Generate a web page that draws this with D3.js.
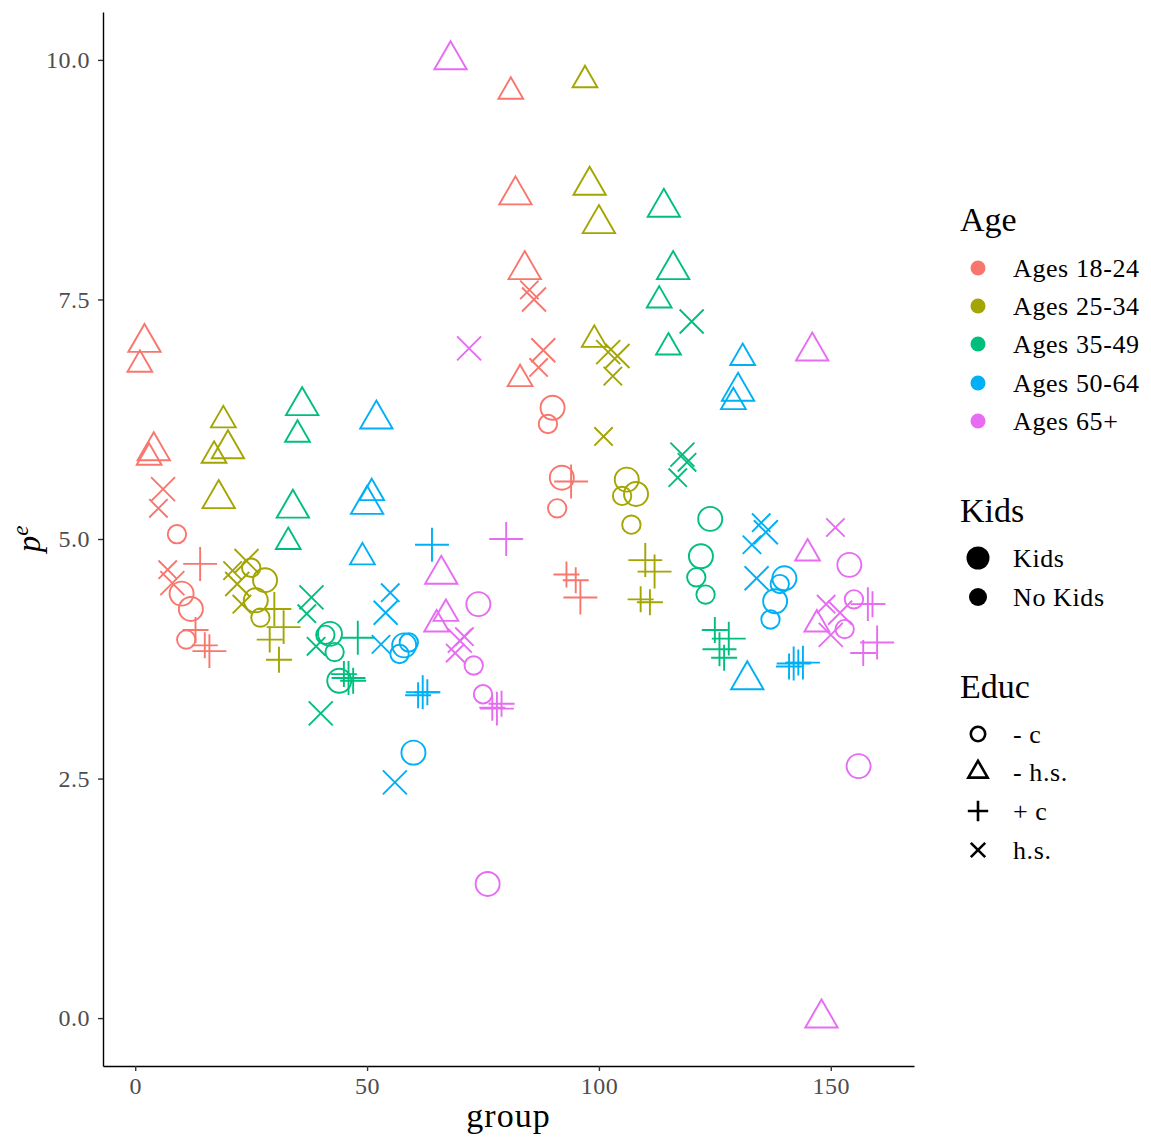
<!DOCTYPE html>
<html><head><meta charset="utf-8">
<script src="https://cdn.jsdelivr.net/npm/d3@7"></script>
<style>body{margin:0;background:#fff} text{font-family:"Liberation Serif",serif}</style>
</head><body>
<svg id="c" width="1151" height="1140"></svg>
<script>
const ageLevels = ["Ages 18-24","Ages 25-34","Ages 35-49","Ages 50-64","Ages 65+"];
const ageColors = ["#F8766D","#A3A500","#00BF7D","#00B0F6","#E76BF3"];
const kidsLevels = ["Kids","No Kids"];
const educLevels = ["- c","- h.s.","+ c","h.s."];
const xTicks = [0,50,100,150];
const yTicks = [0,2.5,5,7.5,10];

const group = [
 1,2,3,4,5,6,7,8,9,10,11,12,13,14,15,16,
 17,18,19,20,21,22,23,24,25,26,27,28,29,30,31,32,
 33,34,35,36,37,38,39,40,41,42,43,44,45,46,47,48,
 49,50,51,52,53,54,55,56,57,58,59,60,61,62,63,64,
 65,66,67,68,69,70,71,72,73,74,75,76,77,78,79,80,
 81,82,83,84,85,86,87,88,89,90,91,92,93,94,95,96,
 97,98,99,100,101,102,103,104,105,106,107,108,109,110,111,112,
 113,114,115,116,117,118,119,120,121,122,123,124,125,126,127,128,
 129,130,131,132,133,134,135,136,137,138,139,140,141,142,143,144,
 145,146,147,148,149,150,151,152,153,154,155,156,157,158,159,160];

const pe = [
 6.82,7.05,5.85,5.92, 5.32,5.52,4.68,4.54, 5.05,4.43,3.95,4.27, 4.05,4.74,3.89,3.83,
 5.87,5.42,6.24,5.94, 4.67,4.53,4.32,4.77, 4.70,4.36,4.18,4.57, 3.95,4.27,3.74,4.08,
 4.97,5.32,6.09,6.39, 4.22,4.39,3.88,3.18, 4.00,4.01,3.82,3.52, 3.59,3.55,3.52,3.97,
 4.81,5.36,5.48,6.25, 3.90,4.23,4.44,2.46, 3.80,3.89,3.92,2.77, 3.37,3.40,3.40,4.94,
 4.11,4.63,4.22,10.0, 3.81,3.94,3.98,6.99, 3.68,4.32,3.38,1.40, 3.24,3.23,3.28,5.00,
 9.67,8.59,6.67,7.81, 7.60,7.50,6.79,6.97, 6.20,6.37,5.32,5.64, 4.63,5.60,4.57,4.39,
 9.79,8.69,7.08,8.29, 6.07,6.95,6.70,6.91, 5.45,5.62,5.15,5.47, 4.37,4.78,4.34,4.66,
 7.49,8.46,7.00,7.81, 5.64,5.88,5.80,7.27, 4.60,4.82,4.42,5.21, 4.05,3.85,3.76,3.96,
 6.43,6.54,6.89,3.53, 4.94,4.59,5.17,5.07, 4.16,4.35,4.53,4.59, 3.67,3.70,3.71,3.71,
 4.85,6.96,4.11,0.00, 4.32,4.00,5.12,4.23, 4.06,4.73,4.37,2.63, 3.81,4.32,4.32,3.92];

// index into ageLevels
const age = [
 0,0,0,0,0,0,0,0,0,0,0,0,0,0,0,0,
 1,1,1,1,1,1,1,1,1,1,1,1,1,1,1,1,
 2,2,2,2,2,2,2,2,2,2,2,2,2,2,2,2,
 3,3,3,3,3,3,3,3,3,3,3,3,3,3,3,3,
 4,4,4,4,4,4,4,4,4,4,4,4,4,4,4,4,
 0,0,0,0,0,0,0,0,0,0,0,0,0,0,0,0,
 1,1,1,1,1,1,1,1,1,1,1,1,1,1,1,1,
 2,2,2,2,2,2,2,2,2,2,2,2,2,2,2,2,
 3,3,3,3,3,3,3,3,3,3,3,3,3,3,3,3,
 4,4,4,4,4,4,4,4,4,4,4,4,4,4,4,4];

// index into kidsLevels
const kids = [
 1,0,1,0,1,0,1,0,1,0,1,0,1,0,1,0, 1,0,1,0,1,0,1,0,1,0,1,0,1,0,1,0,
 1,0,1,0,1,0,1,0,1,0,1,0,1,0,1,0, 1,0,1,0,1,0,1,0,1,0,1,0,1,0,1,0,
 1,0,1,0,1,0,1,0,1,0,1,0,1,0,1,0, 1,0,1,0,1,0,1,0,1,0,1,0,1,0,1,0,
 1,0,1,0,1,0,1,0,1,0,1,0,1,0,1,0, 1,0,1,0,1,0,1,0,1,0,1,0,1,0,1,0,
 1,0,1,0,1,0,1,0,1,0,1,0,1,0,1,0, 1,0,1,0,1,0,1,0,1,0,1,0,1,0,1,0];

// index into educLevels
const educ = [
 1,1,1,1,3,3,3,3,0,0,0,0,2,2,2,2, 1,1,1,1,3,3,3,3,0,0,0,0,2,2,2,2,
 1,1,1,1,3,3,3,3,0,0,0,0,2,2,2,2, 1,1,1,1,3,3,3,3,0,0,0,0,2,2,2,2,
 1,1,1,1,3,3,3,3,0,0,0,0,2,2,2,2, 1,1,1,1,3,3,3,3,0,0,0,0,2,2,2,2,
 1,1,1,1,3,3,3,3,0,0,0,0,2,2,2,2, 1,1,1,1,3,3,3,3,0,0,0,0,2,2,2,2,
 1,1,1,1,3,3,3,3,0,0,0,0,2,2,2,2, 1,1,1,1,3,3,3,3,0,0,0,0,2,2,2,2];

const data = group.map((g,i)=>({group:g, pe:pe[i], age:ageLevels[age[i]], kids:kidsLevels[kids[i]], educ:educLevels[educ[i]]}));

const W=1151,H=1140;
const P={l:103,r:914,t:12,b:1066};
const x = d3.scaleLinear().domain([-6.95,167.95]).range([P.l,P.r]);
const y = d3.scaleLinear().domain([-0.5,10.5]).range([P.b,P.t]);
const color = d3.scaleOrdinal().domain(ageLevels).range(ageColors);
const sizeU = d3.scaleOrdinal().domain(kidsLevels).range([12,9.2]);

function shapePath(educ,u){
  if(educ==="- c"){ const p=d3.path(); p.moveTo(u,0); p.arc(0,0,u,0,2*Math.PI); p.closePath(); return p.toString(); }
  if(educ==="- h.s."){ const r=1.555*u, xc=1.347*u, yc=0.778*u; return `M0,${-r}L${xc},${yc}L${-xc},${yc}Z`; }
  if(educ==="+ c"){ const a=1.414*u; return `M${-a},0H${a}M0,${-a}V${a}`; }
  return `M${-u},${-u}L${u},${u}M${-u},${u}L${u},${-u}`;
}

const svg = d3.select("#c");
svg.append("rect").attr("width",W).attr("height",H).attr("fill","#fff");

// points
svg.append("g").selectAll("path").data(data).join("path")
  .attr("transform",d=>`translate(${x(d.group)},${y(d.pe)})`)
  .attr("d",d=>shapePath(d.educ,sizeU(d.kids)))
  .attr("fill","none").attr("stroke",d=>color(d.age)).attr("stroke-width",1.9)
  .attr("stroke-linecap","butt");

// axes
const xa = svg.append("g").attr("transform",`translate(0,${P.b})`)
  .call(d3.axisBottom(x).tickValues(xTicks).tickFormat(d3.format("d")).tickSizeInner(5).tickSizeOuter(0).tickPadding(6));
const ya = svg.append("g").attr("transform",`translate(${P.l},0)`)
  .call(d3.axisLeft(y).tickValues(yTicks).tickFormat(d3.format(".1f")).tickSizeInner(5).tickSizeOuter(0).tickPadding(8));
[xa,ya].forEach(a=>{
  a.select(".domain").attr("stroke","#000").attr("stroke-width",1.4);
  a.selectAll(".tick line").attr("stroke","#333").attr("stroke-width",1.4);
  a.selectAll(".tick text").attr("fill","#4D4D4D").style("font-size","24px")
   .style("font-family","Liberation Serif").style("letter-spacing","0.5px");
});

// axis titles
svg.append("text").attr("x",(P.l+P.r)/2).attr("y",1127).attr("text-anchor","middle")
  .style("font-size","34px").style("letter-spacing","1px").text("group");
const yt = svg.append("text").attr("transform",`translate(40,${(P.t+P.b)/2}) rotate(-90)`).attr("text-anchor","middle")
  .style("font-size","33px");
yt.append("tspan").style("font-style","italic").text("p");
yt.append("tspan").attr("dy",-12).style("font-size","23px").style("font-style","italic").text("e");

// legends
const LX=960, KX=978, TX=1013;
function title(t,yb){ svg.append("text").attr("x",LX).attr("y",yb).style("font-size","34px").text(t); }
function label(t,yc){ svg.append("text").attr("x",TX).attr("y",yc+9).style("font-size","26px").style("letter-spacing","0.6px").text(t); }

title("Age",231);
const ageY=[268,306,344,383,421];
ageLevels.forEach((a,i)=>{
  svg.append("circle").attr("cx",KX).attr("cy",ageY[i]).attr("r",7.5).attr("fill",color(a));
  label(a,ageY[i]);
});
title("Kids",522);
const kidsY=[558,597], kidsR=[11.5,9];
kidsLevels.forEach((k,i)=>{
  svg.append("circle").attr("cx",KX).attr("cy",kidsY[i]).attr("r",kidsR[i]).attr("fill","#000");
  label(k,kidsY[i]);
});
title("Educ",698);
const educY=[734,772,811,850];
educLevels.forEach((e,i)=>{
  svg.append("path").attr("transform",`translate(${KX},${educY[i]})`).attr("d",shapePath(e,7.2))
    .attr("fill","none").attr("stroke","#000").attr("stroke-width",2.6);
  label(e,educY[i]);
});
</script>
</body></html>
